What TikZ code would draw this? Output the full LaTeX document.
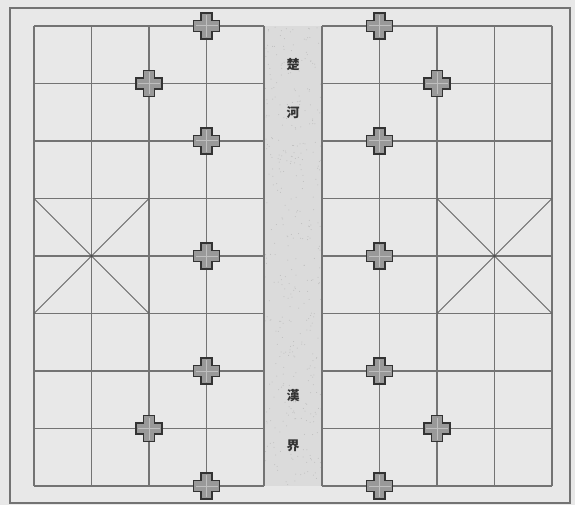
\documentclass[tikz,border=0pt]{standalone}
\usepackage{fontspec}
\newfontfamily\cjk{Noto Sans CJK TC}
\begin{document}
\begin{tikzpicture}[x=1pt,y=-1pt,
  gridline/.style={draw=black!55,line width=1.2pt},
  framebox/.style={draw=black!55,line width=1.4pt},
  palaceline/.style={draw=black!60,line width=0.9pt},
  markline/.style={draw=black!80,fill=black!40,line width=1.9pt,line join=miter},
  rivertext/.style={font=\cjk\bfseries\fontsize{13}{13}\selectfont,text=black!80,inner sep=0pt}]
\useasboundingbox (0,0) rectangle (575,505);
\fill[black!9] (0,0) rectangle (575,505);
\draw[framebox] (10,8) rectangle (570,503);
% river
\fill[black!14] (264,26) rectangle (322,486);
\foreach \i in {1,...,400}{
  \pgfmathsetmacro{\rx}{265+56*rnd}
  \pgfmathsetmacro{\ry}{27+458*rnd}
  \fill[black!26] (\rx,\ry) circle (0.5);
}
% horizontal lines
\foreach \y in {26,83.5,141,198.5,256,313.5,371,428.5,486}{
  \draw[gridline] (34,\y) -- (264,\y);
  \draw[gridline] (322,\y) -- (552,\y);
}
% vertical lines
\foreach \x in {34,91.5,149,206.5,264,322,379.5,437,494.5,552}{
  \draw[gridline] (\x,26) -- (\x,486);
}
% palaces
\draw[palaceline] (34,198.5) -- (149,313.5) (149,198.5) -- (34,313.5);
\draw[palaceline] (437,198.5) -- (552,313.5) (552,198.5) -- (437,313.5);
\fill[black!70] (91.5,256) circle (1.3);
\fill[black!70] (494.5,256) circle (1.3);
% markers
\foreach \p/\n in {{206.5,26}/m1,{149,83.5}/m2,{206.5,141}/m3,{206.5,256}/m4,{206.5,371}/m5,{149,428.5}/m6,{206.5,486}/m7,
                   {379.5,26}/m8,{437,83.5}/m9,{379.5,141}/m10,{379.5,256}/m11,{379.5,371}/m12,{437,428.5}/m13,{379.5,486}/m14}{
  \coordinate (\n) at (\p);
  \draw[markline] ([shift={(-5.5,-13)}]\n) -- ([shift={(5.5,-13)}]\n) -- ([shift={(5.5,-5.5)}]\n)
     -- ([shift={(13,-5.5)}]\n) -- ([shift={(13,5.5)}]\n) -- ([shift={(5.5,5.5)}]\n)
     -- ([shift={(5.5,13)}]\n) -- ([shift={(-5.5,13)}]\n) -- ([shift={(-5.5,5.5)}]\n)
     -- ([shift={(-13,5.5)}]\n) -- ([shift={(-13,-5.5)}]\n) -- ([shift={(-5.5,-5.5)}]\n) -- cycle;
  \draw[black!25,line width=1pt] ([shift={(-11,0)}]\n) -- ([shift={(11,0)}]\n) ([shift={(0,-11)}]\n) -- ([shift={(0,11)}]\n);
}
% river text
\node[rivertext] (t1) at (293,65) {楚};
\node[rivertext] (t2) at (293,113) {河};
\node[rivertext] (t3) at (293,396) {漢};
\node[rivertext] (t4) at (293,446) {界};
\end{tikzpicture}
\end{document}
